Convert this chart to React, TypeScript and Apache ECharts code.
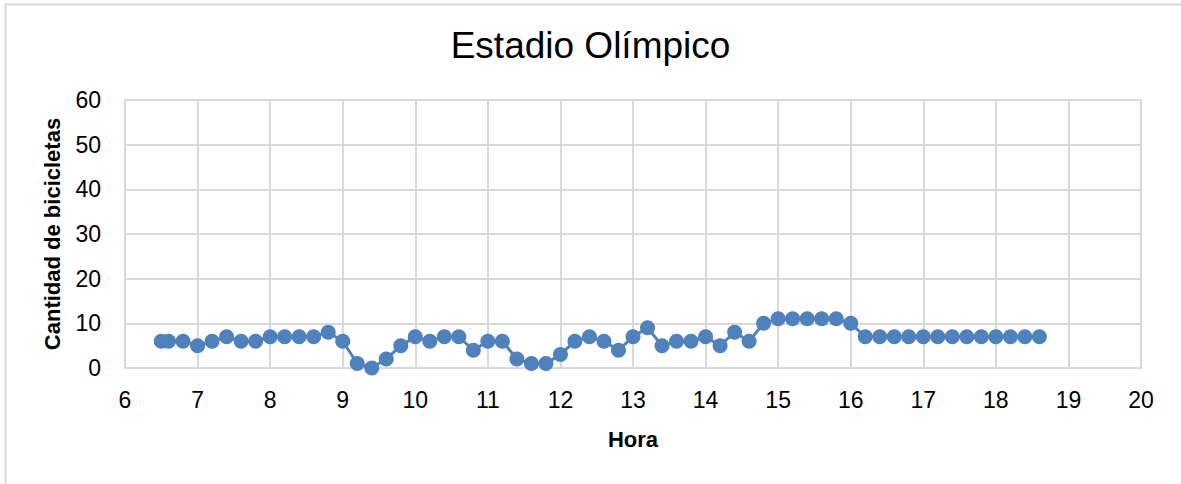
import React, { useEffect, useRef } from "react";
import * as echarts from "echarts";

const TITLE = "Estadio Olímpico";
const X_NAME = "Hora";
const Y_NAME = "Cantidad de bicicletas";

const hours: number[] = [
  6.5, 6.6, 6.8, 7.0, 7.2, 7.4, 7.6, 7.8, 8.0, 8.2, 8.4, 8.6, 8.8, 9.0, 9.2, 9.4, 9.6, 9.8,
  10.0, 10.2, 10.4, 10.6, 10.8, 11.0, 11.2, 11.4, 11.6, 11.8, 12.0, 12.2, 12.4, 12.6, 12.8,
  13.0, 13.2, 13.4, 13.6, 13.8, 14.0, 14.2, 14.4, 14.6, 14.8, 15.0, 15.2, 15.4, 15.6, 15.8,
  16.0, 16.2, 16.4, 16.6, 16.8, 17.0, 17.2, 17.4, 17.6, 17.8, 18.0, 18.2, 18.4, 18.6,
];
const bikes: number[] = [
  6, 6, 6, 5, 6, 7, 6, 6, 7, 7, 7, 7, 8, 6, 1, 0, 2, 5,
  7, 6, 7, 7, 4, 6, 6, 2, 1, 1, 3, 6, 7, 6, 4,
  7, 9, 5, 6, 6, 7, 5, 8, 6, 10, 11, 11, 11, 11, 11,
  10, 7, 7, 7, 7, 7, 7, 7, 7, 7, 7, 7, 7, 7,
];

export default function App() {
  const ref = useRef<HTMLDivElement>(null);
  useEffect(() => {
    if (!ref.current) return;
    const chart = echarts.init(ref.current, undefined, { renderer: "svg" });
    const labelFont = "'Liberation Sans', Arial, sans-serif";
    chart.setOption({
      animation: false,
      backgroundColor: "#ffffff",
      title: {
        text: TITLE,
        left: "center",
        top: 22,
        textStyle: {
          fontFamily: "'Liberation Sans', Arial, sans-serif",
          fontSize: 37,
          fontWeight: "normal",
          color: "#000000",
        },
      },
      graphic: [
        {
          type: "rect",
          shape: { x: 5.5, y: 4.5, width: 1200, height: 520 },
          style: { fill: "none", stroke: "#d9d9d9", lineWidth: 2 },
          silent: true,
        },
      ],
      grid: { left: 125, right: 40, top: 100, bottom: 116, containLabel: false },
      xAxis: {
        type: "value",
        min: 6,
        max: 20,
        interval: 1,
        name: X_NAME,
        nameLocation: "middle",
        nameGap: 60,
        nameTextStyle: { fontFamily: labelFont, fontSize: 22, fontWeight: "bold", color: "#000" },
        axisLine: { show: true, lineStyle: { color: "#d9d9d9", width: 2 } },
        axisTick: { show: false },
        axisLabel: { fontFamily: labelFont, fontSize: 23, color: "#000", margin: 20 },
        splitLine: { show: true, lineStyle: { color: "#d9d9d9", width: 2 } },
      },
      yAxis: {
        type: "value",
        min: 0,
        max: 60,
        interval: 10,
        name: Y_NAME,
        nameLocation: "middle",
        nameGap: 62,
        nameTextStyle: { fontFamily: labelFont, fontSize: 22, fontWeight: "bold", color: "#000" },
        axisLine: { show: true, lineStyle: { color: "#d9d9d9", width: 2 } },
        axisTick: { show: false },
        axisLabel: { fontFamily: labelFont, fontSize: 23, color: "#000", margin: 24 },
        splitLine: { show: true, lineStyle: { color: "#d9d9d9", width: 2 } },
      },
      series: [
        {
          type: "line",
          data: hours.map((h, i) => [h, bikes[i]]),
          symbol: "circle",
          symbolSize: 15,
          itemStyle: { color: "#4f81bd" },
          lineStyle: { color: "#4f81bd", width: 3 },
        },
      ],
    });
    return () => chart.dispose();
  }, []);
  return (
    <div
      ref={ref}
      style={{ position: "absolute", left: 0, top: 0, width: 1181, height: 484 }}
    />
  );
}
